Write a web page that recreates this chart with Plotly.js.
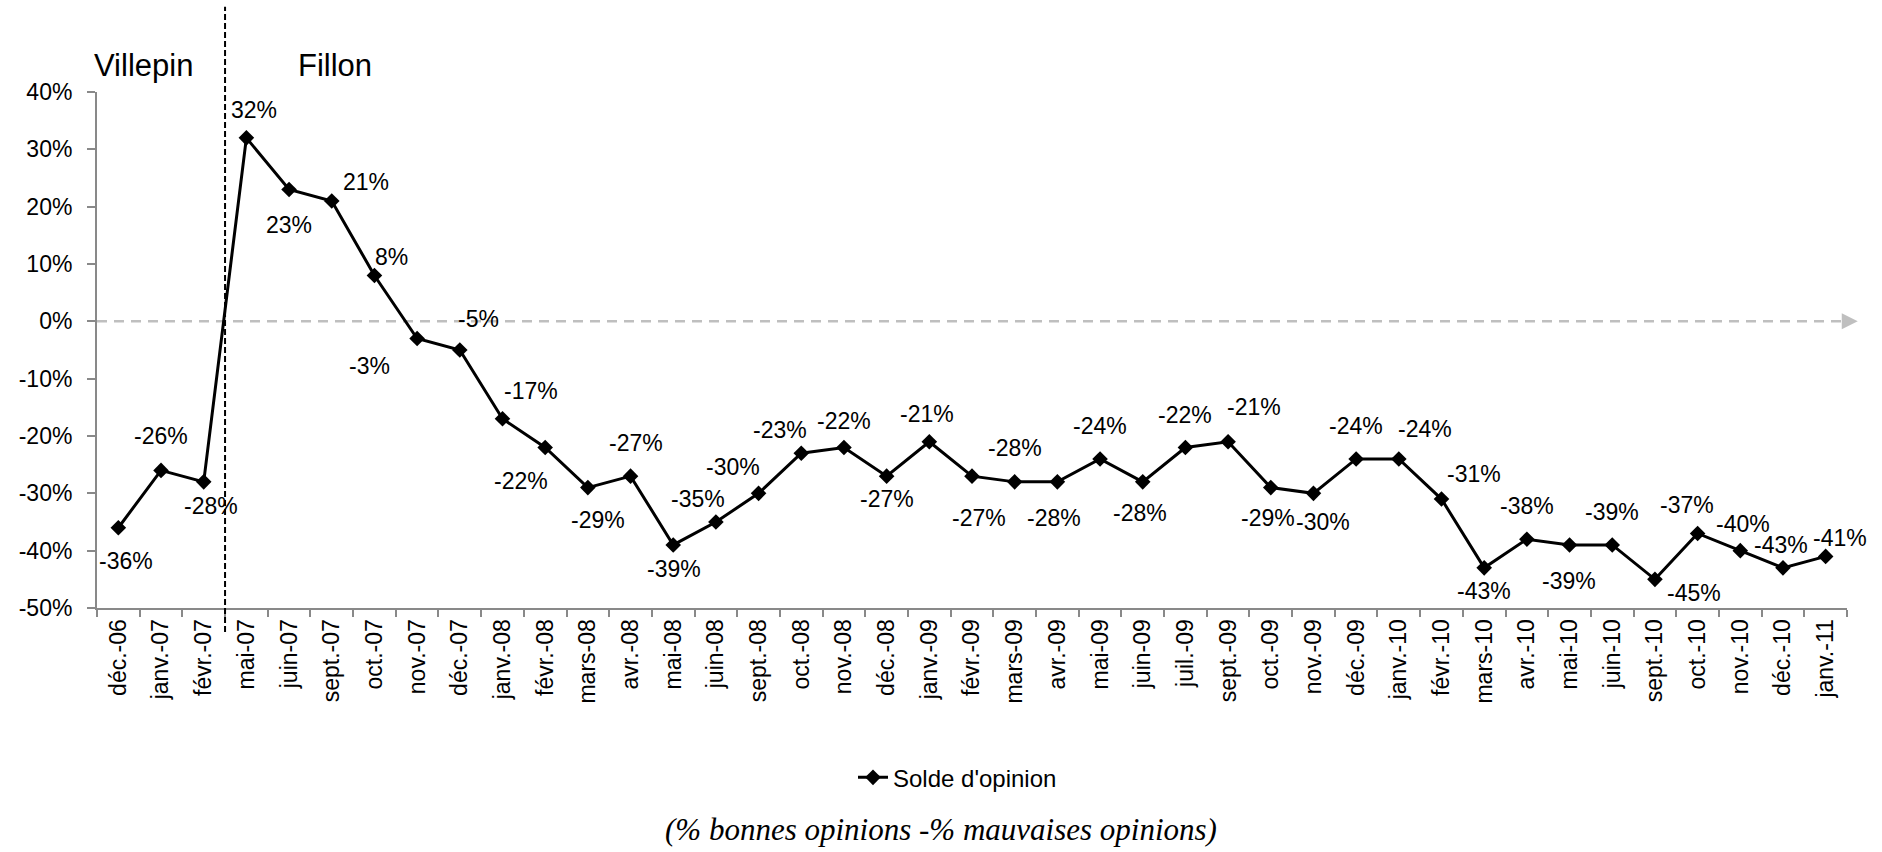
<!DOCTYPE html>
<html>
<head>
<meta charset="utf-8">
<script src="https://cdn.plot.ly/plotly-3.0.1.min.js"></script>
<style>html,body{margin:0;padding:0;background:#fff;}#chart{width:1882px;height:852px;}</style>
</head>
<body>
<div id="chart"></div>
<script>
const categories = ["déc.-06","janv.-07","févr.-07","mai-07","juin-07","sept.-07","oct.-07","nov.-07","déc.-07",
  "janv.-08","févr.-08","mars-08","avr.-08","mai-08","juin-08","sept.-08","oct.-08","nov.-08","déc.-08",
  "janv.-09","févr.-09","mars-09","avr.-09","mai-09","juin-09","juil.-09","sept.-09","oct.-09","nov.-09","déc.-09",
  "janv.-10","févr.-10","mars-10","avr.-10","mai-10","juin-10","sept.-10","oct.-10","nov.-10","déc.-10","janv.-11"];
const solde = [-36,-26,-28,32,23,21,8,-3,-5,
  -17,-22,-29,-27,-39,-35,-30,-23,-22,-27,
  -21,-27,-28,-28,-24,-28,-22,-21,-29,-30,-24,
  -24,-31,-43,-38,-39,-39,-45,-37,-40,-43,-41];
const yTicks = [-50,-40,-30,-20,-10,0,10,20,30,40];
const yTickText = yTicks.map(v => v + "%");
const seriesName = "Solde d'opinion";
const periodLabels = ["Villepin","Fillon"];
const footnote = "(% bonnes opinions -% mauvaises opinions)";

// label offsets (pixels, dx right, dy down) relative to each point
const labelOffsets = [[8,33],[0,-34],[7,24],[8,-28],[0,36],[34,-19],[17,-18],[-48,27],[19,-31],
  [29,-28],[-24,34],[10,32],[5,-33],[1,24],[-18,-23],[-26,-26],[-21,-23],[0,-26],[0,23],
  [-2,-28],[7,42],[0,-34],[-3,36],[0,-33],[-3,31],[0,-32],[26,-35],[-3,30],[10,29],[0,-33],
  [26,-30],[32,-25],[0,23],[0,-33],[-1,36],[0,-33],[39,14],[-11,-28],[3,-27],[-2,-23],[14,-18]];

const FONT = "Liberation Sans, Arial, sans-serif";

const trace = {
  type: "scatter",
  mode: "lines+markers",
  x: categories,
  y: solde,
  name: seriesName,
  line: {color: "#000", width: 3},
  marker: {symbol: "diamond", size: 12, color: "#000"}
};

const annotations = solde.map((v, i) => ({
  x: categories[i], y: v, xref: "x", yref: "y",
  text: v + "%", showarrow: false,
  xanchor: "center", yanchor: "middle",
  xshift: labelOffsets[i][0], yshift: -labelOffsets[i][1],
  font: {family: FONT, size: 23, color: "#000"}
}));

annotations.push({
  xref: "paper", yref: "paper", x: 0.0263, y: 1.052,
  text: periodLabels[0], showarrow: false, xanchor: "center", yanchor: "middle",
  font: {family: FONT, size: 31, color: "#000"}
});
annotations.push({
  xref: "paper", yref: "paper", x: 0.136, y: 1.052,
  text: periodLabels[1], showarrow: false, xanchor: "center", yanchor: "middle",
  font: {family: FONT, size: 31, color: "#000"}
});
annotations.push({
  xref: "paper", yref: "paper", x: 0.482, y: -0.43,
  text: "<i>" + footnote + "</i>", showarrow: false, xanchor: "center", yanchor: "middle",
  font: {family: "Liberation Serif, Times New Roman, serif", size: 31, color: "#000"}
});

const layout = {
  width: 1882, height: 852,
  margin: {l: 97, r: 35, t: 92, b: 244},
  paper_bgcolor: "#fff", plot_bgcolor: "#fff",
  font: {family: FONT, size: 23, color: "#000"},
  showlegend: true,
  legend: {orientation: "h", x: 0.432, y: -0.329, xanchor: "left", yanchor: "middle",
    font: {family: FONT, size: 24, color: "#000"}},
  xaxis: {
    type: "category", range: [-0.5, categories.length - 0.5],
    showline: true, linecolor: "#898989", linewidth: 2,
    ticks: "outside", tickson: "boundaries", ticklen: 7, tickcolor: "#898989", tickwidth: 2,
    tickangle: -90, showgrid: false, zeroline: false,
    tickfont: {family: FONT, size: 23, color: "#000"}
  },
  yaxis: {
    range: [-50, 40], tickmode: "array", tickvals: yTicks, ticktext: yTickText,
    showline: true, linecolor: "#898989", linewidth: 2,
    ticks: "outside", ticklen: 8, tickcolor: "#898989", tickwidth: 2,
    ticklabelstandoff: 10,
    showgrid: false, zeroline: false,
    tickfont: {family: FONT, size: 23, color: "#000"}
  },
  shapes: [
    {type: "line", xref: "paper", yref: "y", x0: 0, x1: 0.997, y0: 0, y1: 0,
      line: {color: "#bfbfbf", width: 2.5, dash: "10px,7px"}, layer: "below"},
    {type: "path", xref: "paper", yref: "y", xsizemode: "pixel", ysizemode: "pixel",
      xanchor: 0.997, yanchor: 0, path: "M0,-8 L16,0 L0,8 Z",
      fillcolor: "#bfbfbf", line: {width: 0}},
    {type: "line", xref: "x", yref: "paper", x0: 2.5, x1: 2.5, y0: -0.0465, y1: 1.165,
      line: {color: "#000", width: 2, dash: "6px,3px"}}
  ],
  annotations: annotations
};

Plotly.newPlot("chart", [trace], layout, {displayModeBar: false, staticPlot: true});
</script>
</body>
</html>
